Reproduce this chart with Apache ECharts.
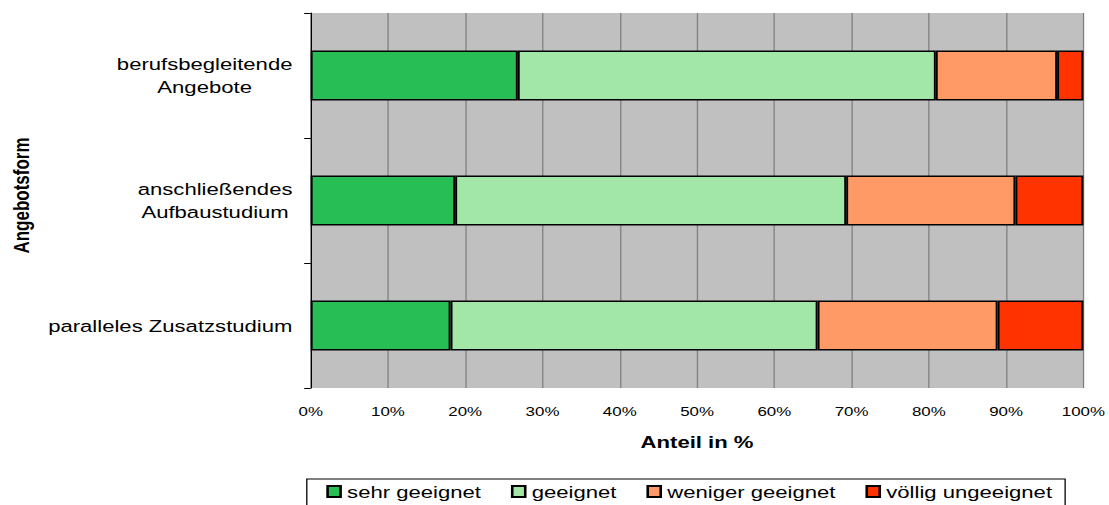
<!DOCTYPE html>
<html>
<head>
<meta charset="utf-8">
<script src="https://cdn.jsdelivr.net/npm/echarts@6/dist/echarts.min.js"></script>
<style>
  html, body { margin: 0; padding: 0; background: #fff; }
  .wrap { width: 1109px; height: 505px; overflow: hidden; }
  /* the original picture is stretched horizontally, so the chart is drawn narrower and scaled */
  #chart { width: 853px; height: 505px; transform: scaleX(1.3); transform-origin: 0 0; }
</style>
</head>
<body>
<div class="wrap"><div id="chart"></div></div>
<script>
  const categories = ['berufsbegleitende\nAngebote', 'anschließendes\nAufbaustudium', 'paralleles Zusatzstudium'];
  const sehrGeeignet = [26.8, 18.7, 18.1];
  const geeignet = [54.1, 50.6, 47.5];
  const wenigerGeeignet = [15.7, 21.9, 23.3];
  const voelligUngeeignet = [3.4, 8.8, 11.1];
  const seriesNames = ['sehr geeignet', 'geeignet', 'weniger geeignet', 'völlig ungeeignet'];
  const colors = ['#27BE55', '#A2E6A8', '#FF9966', '#FF3300'];

  const font = "'Liberation Sans', Arial, sans-serif";
  const myChart = echarts.init(document.getElementById('chart'), null, { renderer: 'svg' });

  const makeSeries = (name, data, i) => ({
    name,
    type: 'bar',
    stack: 'total',
    barWidth: 50,
    data,
    itemStyle: { color: colors[i], borderColor: '#000', borderWidth: 1.5 },
  });

  const option = {
    animation: false,
    grid: {
      left: 236,
      right: 17,
      top: 13,
      bottom: 117,
      show: true,
      backgroundColor: '#C0C0C0',
      borderWidth: 0,
    },
    legend: {
      data: seriesNames,
      left: 236,
      top: 479,
      orient: 'horizontal',
      itemWidth: 10,
      itemHeight: 11,
      itemGap: 23,
      icon: 'rect',
      padding: [4, 10, 6, 15],
      borderColor: '#000',
      borderWidth: 1,
      textStyle: { fontFamily: font, fontSize: 17, color: '#000' },
    },
    xAxis: {
      type: 'value',
      min: 0,
      max: 100,
      interval: 10,
      name: 'Anteil in %',
      nameLocation: 'middle',
      nameGap: 45,
      nameTextStyle: { fontFamily: font, fontSize: 17, fontWeight: 'bold', color: '#000' },
      axisLine: { show: false },
      axisTick: { show: false },
      axisLabel: { formatter: '{value}%', fontFamily: font, fontSize: 13, color: '#000', margin: 17 },
      splitLine: { show: true, lineStyle: { color: '#808080', width: 1 } },
    },
    yAxis: {
      type: 'category',
      inverse: true,
      data: categories,
      name: 'Angebotsform',
      nameLocation: 'middle',
      nameGap: 214,
      nameTextStyle: { fontFamily: font, fontSize: 17, fontWeight: 'bold', color: '#000', padding: [0, 0, 0, 10] },
      axisLine: { show: true, lineStyle: { color: '#000', width: 1 } },
      axisTick: { show: true, length: 5, lineStyle: { color: '#000' } },
      axisLabel: {
        margin: 14,
        formatter: (v) => v.split('\n').map((s) => '{c|' + s + '}').join('\n'),
        rich: {
          c: { align: 'center', fontFamily: font, fontSize: 17, color: '#000', lineHeight: 23 },
        },
      },
      splitLine: { show: false },
    },
    series: [
      makeSeries(seriesNames[0], sehrGeeignet, 0),
      makeSeries(seriesNames[1], geeignet, 1),
      makeSeries(seriesNames[2], wenigerGeeignet, 2),
      makeSeries(seriesNames[3], voelligUngeeignet, 3),
    ],
  };
  myChart.setOption(option);
</script>
</body>
</html>
